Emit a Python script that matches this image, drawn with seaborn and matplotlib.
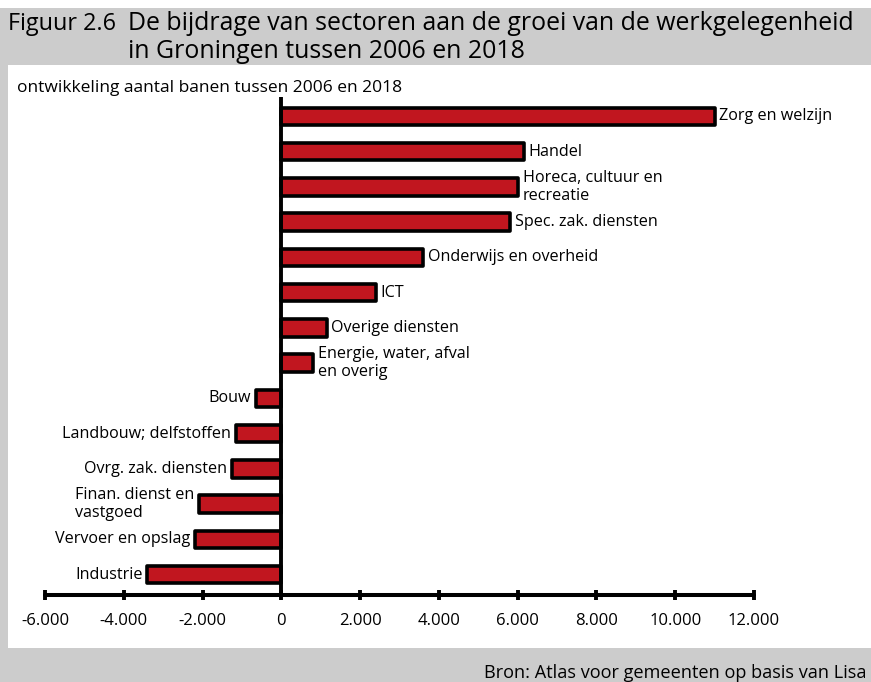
import numpy as np
import pandas as pd
import matplotlib
matplotlib.use('Agg')
import matplotlib.pyplot as plt
import seaborn as sb
from matplotlib.patches import Rectangle
from matplotlib.ticker import FuncFormatter

# Data
sectors = ['Zorg en welzijn', 'Handel', 'Horeca, cultuur en\nrecreatie', 'Spec. zak. diensten',
           'Onderwijs en overheid', 'ICT', 'Overige diensten', 'Energie, water, afval\nen overig',
           'Bouw', 'Landbouw; delfstoffen', 'Ovrg. zak. diensten', 'Finan. dienst en\nvastgoed',
           'Vervoer en opslag', 'Industrie']
banen = [11000, 6150, 6000, 5800, 3600, 2400, 1150, 800,
         -650, -1150, -1250, -2100, -2200, -3400]
xticks = [-6000, -4000, -2000, 0, 2000, 4000, 6000, 8000, 10000, 12000]

df = pd.DataFrame({'sector': sectors, 'banen': banen})

sb.set_style('white')
plt.rcParams['font.family'] = ['Open Sans', 'DejaVu Sans']
plt.rcParams['text.color'] = 'black'

W, H = 871, 682
fig = plt.figure(figsize=(W / 100, H / 100), dpi=100)
fig.patch.set_facecolor('white')

# gray frame with white panel inside
fig.patches.append(Rectangle((0, 0), 1, 1 - 8 / H, transform=fig.transFigure,
                             facecolor='#cccccc', edgecolor='none', zorder=-20))
fig.patches.append(Rectangle((8 / W, 1 - 648 / H), 1, (648 - 65) / H,
                             transform=fig.transFigure, facecolor='white', edgecolor='none', zorder=-10))

fig.text(8 / W, 1 - 24 / H, 'Figuur 2.6', fontsize=16.8, va='center', ha='left')
fig.text(128 / W, 1 - 24 / H, 'De bijdrage van sectoren aan de groei van de werkgelegenheid',
         fontsize=17.9, va='center', ha='left')
fig.text(128 / W, 1 - 51 / H, 'in Groningen tussen 2006 en 2018', fontsize=17.9, va='center', ha='left')
fig.text(17 / W, 1 - 88 / H, 'ontwikkeling aantal banen tussen 2006 en 2018', fontsize=12.5, va='center', ha='left')
fig.text(484 / W, 1 - 673 / H, 'Bron: Atlas voor gemeenten op basis van Lisa', fontsize=13.1, va='center', ha='left')

ax = fig.add_axes([45 / W, 1 - 595 / H, (754 - 45) / W, (595 - 97) / H])
ax.set_facecolor('none')

sb.barplot(data=df, y='sector', x='banen', orient='h', color='#c1161f', saturation=1,
           edgecolor='black', linewidth=2.6, width=0.5, ax=ax, zorder=2)
for bar in ax.patches:
    bar.set_joinstyle('round')

ax.set_xlim(-6000, 12000)
ax.set_ylim(13.58, -0.55)
ax.set_xlabel('')
ax.set_ylabel('')
ax.set_yticks([])
ax.set_xticks(xticks)
ax.xaxis.set_major_formatter(FuncFormatter(lambda v, p: f'{int(v):,}'.replace(',', '.')))
ax.tick_params(axis='x', bottom=True, direction='inout', length=6.5, width=2.8,
               labelsize=12, pad=9.5, colors='black', labelcolor='black')
for s in ['top', 'right', 'left']:
    ax.spines[s].set_visible(False)
ax.spines['bottom'].set_linewidth(2.9)
ax.spines['bottom'].set_color('black')
ax.spines['bottom'].set_capstyle('round')
ax.axvline(0, color='black', linewidth=2.8, zorder=3)

# sector labels next to the bars
for i, (name, val) in enumerate(zip(sectors, banen)):
    if val >= 0:
        ax.annotate(name, (val, i), xytext=(3.5, 0), textcoords='offset points',
                    ha='left', va='center', fontsize=11.6, multialignment='left', linespacing=1.15)
    else:
        ax.annotate(name, (val, i), xytext=(-3.5, 0), textcoords='offset points',
                    ha='right', va='center', fontsize=11.6, multialignment='left', linespacing=1.15)

fig.savefig('out.png', dpi=100, facecolor=fig.get_facecolor())
